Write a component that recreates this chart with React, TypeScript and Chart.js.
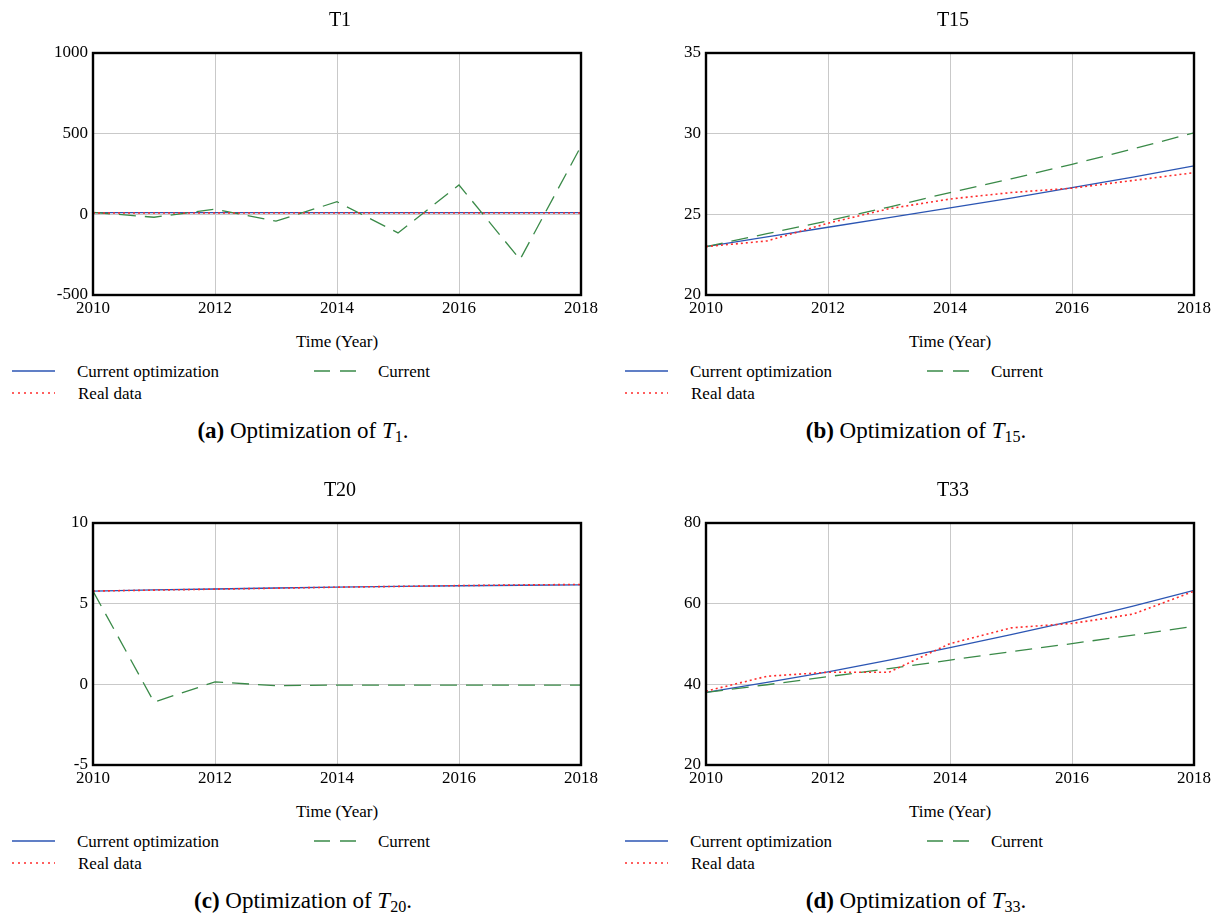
import React, { useEffect, useRef } from "react";
import { Chart, registerables } from "chart.js";

Chart.register(...registerables);

// ---------- data ----------
const years = [2010, 2011, 2012, 2013, 2014, 2015, 2016, 2017, 2018];
const xTicks = [2010, 2012, 2014, 2016, 2018];

const t1Optimization = [10, 10, 10, 10, 10, 10, 10, 10, 10];
const t1Current = [12, -18, 32, -42, 78, -115, 182, -280, 422];
const t1Real = [8, 8, 8, 8, 8, 8, 8, 8, 8];

const t15Optimization = [23.0, 23.6, 24.2, 24.8, 25.4, 26.0, 26.65, 27.3, 28.0];
const t15Current = [23.0, 23.8, 24.6, 25.45, 26.35, 27.2, 28.1, 29.05, 30.05];
const t15Real = [23.0, 23.35, 24.45, 25.35, 25.95, 26.35, 26.62, 27.1, 27.58];

const t20Optimization = [5.78, 5.85, 5.91, 5.97, 6.03, 6.07, 6.11, 6.14, 6.17];
const t20Current = [5.78, -1.1, 0.15, -0.08, -0.05, -0.05, -0.05, -0.05, -0.05];
const t20Real = [5.78, 5.84, 5.9, 5.96, 6.02, 6.07, 6.12, 6.16, 6.19];

const t33Optimization = [38.0, 40.5, 43.1, 46.0, 49.1, 52.3, 55.7, 59.4, 63.3];
const t33Current = [38.0, 39.9, 41.9, 43.9, 46.0, 48.1, 50.1, 52.2, 54.4];
const t33Real = [38.3, 42.0, 43.0, 43.0, 50.1, 54.0, 55.1, 57.4, 63.1];

const seriesNames = ["Current optimization", "Current", "Real data"];

// ---------- styles ----------
const FONT = "'Liberation Serif', 'Times New Roman', serif";
const BLUE = "#2b55b3";
const GREEN = "#3a8a48";
const RED = "#ff2b2b";
const GRID = "#c9c9c9";
const GREEN_DASH = [17, 9];
const RED_DASH = [2, 3];

Chart.defaults.font.family = FONT;
Chart.defaults.color = "#000";

const framePlugin = {
  id: "frame",
  afterDraw(chart: any) {
    const { ctx, chartArea } = chart;
    const { left, top, right, bottom } = chartArea;
    ctx.save();
    ctx.strokeStyle = "#000";
    ctx.lineWidth = 2.4;
    ctx.strokeRect(left, top, right - left, bottom - top);
    ctx.restore();
  },
};

type PanelProps = {
  left: number;
  top: number;
  title: string;
  yMin: number;
  yMax: number;
  yStep: number;
  optimization: number[];
  current: number[];
  real: number[];
  caption: React.ReactNode;
};

const CW = 610;
const CH = 330;
const PLOT_LEFT = 93;
const PLOT_RIGHT = 581;
const PLOT_TOP = 53;
const PLOT_BOTTOM = 295;

function Panel(p: PanelProps) {
  const ref = useRef<HTMLCanvasElement | null>(null);

  useEffect(() => {
    if (!ref.current) return;
    const pts = (vals: number[]) => years.map((x, i) => ({ x, y: vals[i] }));
    const tickFont = { family: FONT, size: 17 };
    const chart = new Chart(ref.current, {
      type: "line",
      data: {
        datasets: [
          {
            label: seriesNames[2],
            data: pts(p.real),
            borderColor: RED,
            borderWidth: 1.6,
            borderDash: RED_DASH,
            pointRadius: 0,
            tension: 0,
            fill: false,
          },
          {
            label: seriesNames[1],
            data: pts(p.current),
            borderColor: GREEN,
            borderWidth: 1.3,
            borderDash: GREEN_DASH,
            pointRadius: 0,
            tension: 0,
            fill: false,
          },
          {
            label: seriesNames[0],
            data: pts(p.optimization),
            borderColor: BLUE,
            borderWidth: 1.3,
            pointRadius: 0,
            tension: 0,
            fill: false,
          },
        ],
      },
      options: {
        animation: false,
        responsive: false,
        devicePixelRatio: 1,
        layout: {
          padding: { left: 0, top: PLOT_TOP, right: CW - PLOT_RIGHT, bottom: 0 },
        },
        plugins: {
          legend: { display: false },
          tooltip: { enabled: false },
          title: { display: false },
        },
        scales: {
          x: {
            type: "linear",
            min: xTicks[0],
            max: xTicks[xTicks.length - 1],
            afterFit: (s: any) => {
              s.height = CH - PLOT_BOTTOM;
            },
            afterBuildTicks: (s: any) => {
              s.ticks = xTicks.map((v) => ({ value: v }));
            },
            grid: { color: GRID, lineWidth: 1, drawTicks: false },
            border: { display: false },
            ticks: {
              padding: 3,
              color: "#000",
              font: tickFont,
              maxRotation: 0,
              autoSkip: false,
              callback: (v: any) => String(v),
            },
          },
          y: {
            min: p.yMin,
            max: p.yMax,
            afterFit: (s: any) => {
              s.width = PLOT_LEFT;
            },
            grid: { color: GRID, lineWidth: 1, drawTicks: false },
            border: { display: false },
            ticks: {
              stepSize: p.yStep,
              padding: 5,
              color: "#000",
              font: tickFont,
              callback: (v: any) => String(v),
            },
          },
        },
      },
      plugins: [framePlugin],
    } as any);
    return () => chart.destroy();
  }, []);

  const cx = (PLOT_LEFT + PLOT_RIGHT) / 2;
  const text: React.CSSProperties = {
    position: "absolute",
    fontFamily: FONT,
    color: "#000",
    lineHeight: 1,
    whiteSpace: "nowrap",
  };

  const legendSample = (x: number, y: number, color: string, dash: string | null) => (
    <svg
      style={{ position: "absolute", left: x, top: y - 3 }}
      width={43}
      height={6}
    >
      <line
        x1={0}
        y1={3}
        x2={43}
        y2={3}
        stroke={color}
        strokeWidth={1.4}
        strokeDasharray={dash || undefined}
      />
    </svg>
  );

  return (
    <div style={{ position: "absolute", left: p.left, top: p.top, width: CW, height: 470 }}>
      <canvas ref={ref} width={CW} height={CH} style={{ position: "absolute", left: 0, top: 0 }} />
      <div style={{ ...text, left: cx + 3, top: 19, fontSize: 20, transform: "translate(-50%, -50%)" }}>
        {p.title}
      </div>
      <div style={{ ...text, left: cx, top: 341, fontSize: 17, transform: "translate(-50%, -50%)" }}>
        Time (Year)
      </div>
      {legendSample(12, 371, BLUE, null)}
      <div style={{ ...text, left: 77, top: 371, fontSize: 17, transform: "translateY(-50%)" }}>
        {seriesNames[0]}
      </div>
      {legendSample(314, 371, GREEN, "16 10")}
      <div style={{ ...text, left: 378, top: 371, fontSize: 17, transform: "translateY(-50%)" }}>
        {seriesNames[1]}
      </div>
      {legendSample(12, 393, RED, "2 4")}
      <div style={{ ...text, left: 78, top: 393, fontSize: 17, transform: "translateY(-50%)" }}>
        {seriesNames[2]}
      </div>
      <div style={{ ...text, left: 303, top: 432, fontSize: 23, transform: "translate(-50%, -50%)" }}>
        {p.caption}
      </div>
    </div>
  );
}

function Caption({ letter, sub }: { letter: string; sub: string }) {
  return (
    <span>
      <b>({letter})</b> Optimization of <i>T</i>
      <span style={{ fontSize: "0.7em", verticalAlign: "-0.3em" }}>{sub}</span>.
    </span>
  );
}

export default function App() {
  return (
    <div
      style={{
        position: "absolute",
        left: 0,
        top: 0,
        width: 1220,
        height: 918,
        background: "#fff",
        overflow: "hidden",
      }}
    >
      <Panel
        left={0}
        top={0}
        title="T1"
        yMin={-500}
        yMax={1000}
        yStep={500}
        optimization={t1Optimization}
        current={t1Current}
        real={t1Real}
        caption={<Caption letter="a" sub="1" />}
      />
      <Panel
        left={613}
        top={0}
        title="T15"
        yMin={20}
        yMax={35}
        yStep={5}
        optimization={t15Optimization}
        current={t15Current}
        real={t15Real}
        caption={<Caption letter="b" sub="15" />}
      />
      <Panel
        left={0}
        top={470}
        title="T20"
        yMin={-5}
        yMax={10}
        yStep={5}
        optimization={t20Optimization}
        current={t20Current}
        real={t20Real}
        caption={<Caption letter="c" sub="20" />}
      />
      <Panel
        left={613}
        top={470}
        title="T33"
        yMin={20}
        yMax={80}
        yStep={20}
        optimization={t33Optimization}
        current={t33Current}
        real={t33Real}
        caption={<Caption letter="d" sub="33" />}
      />
    </div>
  );
}
